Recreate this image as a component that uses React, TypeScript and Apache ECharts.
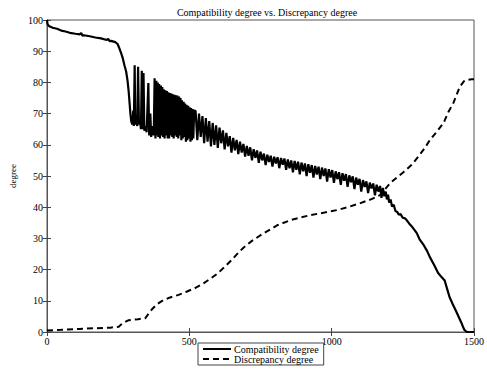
import React, { useEffect, useRef } from "react";
import * as echarts from "echarts";

const titleText = "Compatibility degree vs. Discrepancy degree";
const yAxisName = "degree";
const seriesNames = ["Compatibility degree", "Discrepancy degree"];

const compatibility: [number, number][] = [
  [0, 100], [2, 98.6], [8, 98], [20, 97.5], [35, 97.2], [50, 96.6], [65, 96.3], [80, 95.9], [100, 95.6],
  [115, 95.4], [120, 95.8], [125, 95], [130, 95.1], [150, 94.8], [170, 94.4], [190, 94.1], [210, 93.6],
  [215, 94], [220, 93.2], [225, 93.3], [240, 92.9], [248, 92.3], [254, 91], [260, 89.5], [266, 87.8],
  [272, 85.5], [278, 83.5], [283, 80.5], [287, 77], [290, 73.5], [293, 70], [296, 67.5],
  [300, 66.5], [303, 71], [305, 66], [308, 85.5], [310, 66.5], [314, 68], [317, 66], [320, 85], [323, 66.5],
  [327, 67.5], [330, 65], [333, 83.7], [336, 65], [339, 83], [342, 64.5], [346, 66], [350, 64], [353, 72],
  [356, 79.8], [359, 63], [363, 70], [366, 62.5], [370, 66], [375, 63], [378, 81.3], [381, 62], [384, 80.5],
  [386, 63], [389, 80], [391, 62.5], [394, 79.5], [397, 62], [400, 79], [402, 63], [405, 78.5], [408, 62.5],
  [410, 77.8], [413, 62], [416, 77.5], [418, 63], [421, 77.2], [424, 62], [426, 76.8], [429, 62], [432, 76.6],
  [434, 63], [437, 76.4], [440, 62.5], [442, 76.2], [445, 62], [448, 76], [450, 63], [453, 75.9], [456, 62.5],
  [458, 75.8], [461, 62], [464, 75.5], [466, 63], [469, 75], [472, 61.5], [474, 74.3], [477, 62], [480, 73.8],
  [482, 62.5], [485, 73.2], [488, 61], [490, 72.8], [493, 61.5], [496, 72.5], [498, 62], [501, 72], [504, 61],
  [506, 71.8], [509, 61.5], [512, 71.5], [514, 62], [517, 71],
  [522, 70.8], [528, 61.5], [534, 70], [540, 62.5], [546, 69.2], [552, 60.5], [558, 68.6], [564, 61], [570, 67.6],
  [576, 59.5], [582, 67], [588, 60], [594, 66.2], [600, 59], [606, 65.5], [612, 60.5], [618, 64.6], [624, 58.5],
  [630, 63.8], [636, 59.5], [642, 62.8], [648, 57.5], [654, 62.2], [660, 58.2], [666, 61.6], [672, 57], [678, 61],
  [684, 57.5], [690, 60.3], [696, 56.2], [702, 59.6], [708, 56.5], [714, 59.2], [720, 55], [726, 58.6], [732, 55.8],
  [738, 58.2], [744, 54.2], [750, 57.8], [756, 55], [762, 57.2], [768, 53.5], [774, 56.8], [780, 54.5], [786, 56.5],
  [792, 53], [798, 56.2], [804, 54], [810, 56], [816, 52.5], [822, 55.8], [828, 53.6], [834, 55.6], [840, 52],
  [846, 55.3], [852, 52.5], [858, 55], [864, 51.2], [870, 54.8], [876, 52], [882, 54.6], [888, 50.5], [894, 54.3],
  [900, 51.5], [906, 54], [912, 50], [918, 53.8], [924, 51], [930, 53.5], [936, 49.5], [942, 53.2], [948, 50.5],
  [954, 53], [960, 49], [966, 52.7], [972, 50], [978, 52.4], [984, 48.2], [990, 52.2], [996, 49.5], [1002, 51.9],
  [1008, 47.8], [1014, 51.5], [1020, 49], [1026, 51.2], [1032, 47.2], [1038, 50.9], [1044, 48.5], [1050, 50.6],
  [1056, 46.5], [1062, 50.2], [1068, 48], [1074, 49.9], [1080, 45.8], [1086, 49.5], [1092, 47.2], [1098, 49.1],
  [1104, 45], [1110, 48.7], [1116, 46.5], [1122, 48.3], [1128, 44.5], [1134, 47.9], [1140, 46], [1146, 47.6],
  [1152, 43.8], [1158, 47.2], [1164, 45], [1170, 46.8], [1175, 43], [1180, 46.2], [1185, 43.5], [1190, 45],
  [1194, 42.5], [1198, 44], [1202, 41.5], [1207, 42.5], [1212, 40.2], [1218, 40.8], [1224, 38.8], [1230, 38.5],
  [1236, 37.6], [1242, 37.8], [1250, 36.6], [1258, 36.4], [1264, 35.8], [1272, 34.8], [1280, 34], [1290, 32.8],
  [1299, 31.7], [1310, 29.5], [1323, 27.9], [1335, 26], [1345, 24], [1360, 21.5], [1374, 18.9], [1386, 17.6],
  [1397, 16.5], [1405, 14], [1414, 11.2], [1425, 9], [1438, 6.5], [1448, 4.5], [1456, 2.9], [1462, 1.5],
  [1467, 0.6], [1475, 0], [1500, 0],
];

const discrepancy: [number, number][] = [
  [0, 0.5], [50, 0.7], [113, 1.0], [170, 1.2], [223, 1.4], [252, 1.7], [265, 2.8], [287, 3.8], [320, 4.1],
  [345, 4.4], [358, 6], [368, 7.2], [385, 8.8], [403, 9.9], [430, 11], [462, 11.9], [490, 12.9], [520, 14.1],
  [550, 15.6], [577, 17.3], [600, 18.8], [624, 20.9], [650, 23.2], [671, 25.3], [690, 27], [720, 29.2],
  [760, 31.6], [811, 34.3], [860, 36], [927, 37.5], [975, 38.3], [1020, 39.1], [1060, 40.1], [1101, 41.3],
  [1140, 42.6], [1170, 43.9], [1190, 46], [1205, 47.7], [1230, 49.6], [1253, 51.3], [1280, 53.5], [1300, 55.7],
  [1325, 58.7], [1345, 61.5], [1370, 64.3], [1393, 67], [1410, 70.5], [1428, 73.5], [1450, 78.6], [1465, 80.4],
  [1474, 80.8], [1492, 81], [1500, 81],
];

const xMin = 0, xMax = 1500, xStep = 500;
const yMin = 0, yMax = 100, yStep = 10;

const FONT = "'Liberation Serif', 'Times New Roman', serif";

export default function App() {
  const ref = useRef<HTMLDivElement>(null);
  useEffect(() => {
    if (!ref.current) return;
    const chart = echarts.init(ref.current, undefined, { renderer: "svg" });
    const tick = { show: true, inside: true, length: 4, lineStyle: { color: "#444", width: 1 } };
    const plain = (v: number) => String(v);
    chart.setOption({
      animation: false,
      backgroundColor: "#fff",
      title: {
        text: titleText,
        left: 262,
        textAlign: "center",
        top: 2,
        textStyle: { fontFamily: FONT, fontSize: 10, fontWeight: "normal", color: "#000" },
      },
      grid: { left: 47, right: 9, top: 20, bottom: 41, show: true, borderColor: "#555", borderWidth: 1 },
      legend: {
        data: seriesNames,
        orient: "vertical",
        left: 198,
        top: 343,
        padding: [1, 5, 1, 4],
        itemGap: 0,
        itemWidth: 28,
        itemHeight: 8,
        borderColor: "#444",
        borderWidth: 1,
        backgroundColor: "#fff",
        itemStyle: { opacity: 0 },
        textStyle: { fontFamily: FONT, fontSize: 10, color: "#000", padding: [0, 0, 0, -2] },
      },
      xAxis: [
        {
          type: "value", min: xMin, max: xMax, interval: xStep, position: "bottom",
          axisLine: { show: true, lineStyle: { color: "#555" } }, axisTick: tick, splitLine: { show: false },
          axisLabel: { fontFamily: FONT, fontSize: 10, color: "#000", margin: 4, formatter: plain },
        },
        {
          type: "value", min: xMin, max: xMax, interval: xStep, position: "top",
          axisLine: { show: true, lineStyle: { color: "#555" } }, axisTick: tick, splitLine: { show: false },
          axisLabel: { show: false },
        },
      ],
      yAxis: [
        {
          type: "value", min: yMin, max: yMax, interval: yStep, position: "left",
          name: yAxisName, nameLocation: "middle", nameGap: 22,
          nameTextStyle: { fontFamily: FONT, fontSize: 9, color: "#000" },
          axisLine: { show: true, lineStyle: { color: "#555" } }, axisTick: tick, splitLine: { show: false },
          axisLabel: { fontFamily: FONT, fontSize: 10, color: "#000", margin: 4, formatter: plain },
        },
        {
          type: "value", min: yMin, max: yMax, interval: yStep, position: "right",
          axisLine: { show: true, lineStyle: { color: "#555" } }, axisTick: tick, splitLine: { show: false },
          axisLabel: { show: false },
        },
      ],
      series: [
        {
          name: seriesNames[0], type: "line", data: compatibility, symbol: "none",
          lineStyle: { color: "#000", width: 2.2 }, itemStyle: { color: "#000" },
          xAxisIndex: 0, yAxisIndex: 0,
        },
        {
          name: seriesNames[1], type: "line", data: discrepancy, symbol: "none",
          lineStyle: { color: "#000", width: 2, type: [6, 4] }, itemStyle: { color: "#000" },
          xAxisIndex: 0, yAxisIndex: 0,
        },
      ],
    });
    return () => chart.dispose();
  }, []);
  return <div ref={ref} style={{ width: 487, height: 373, position: "absolute", left: 0, top: 0 }} />;
}
